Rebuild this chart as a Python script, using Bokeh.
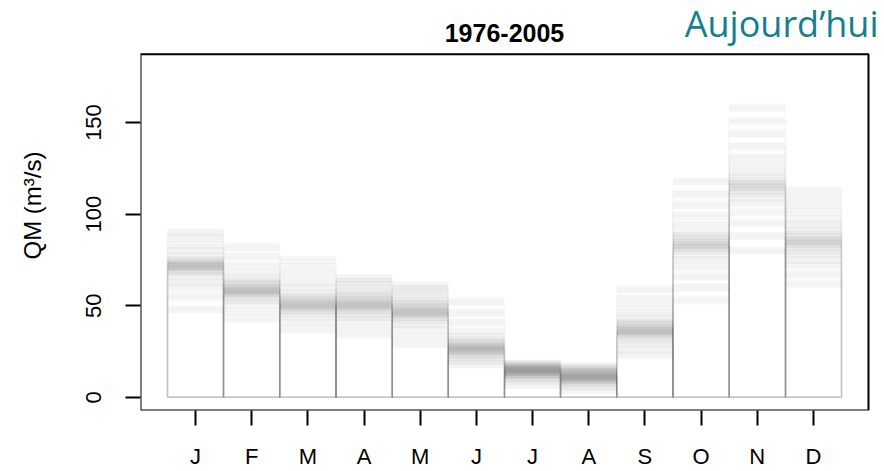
from bokeh.plotting import figure
from bokeh.models import Range1d, FixedTicker, Label, ColumnDataSource, BoxAnnotation
from bokeh.embed import file_html
from bokeh.resources import INLINE

# ---- data ----
month_labels = ["J", "F", "M", "A", "M", "J", "J", "A", "S", "O", "N", "D"]
y_ticks = [0, 50, 100, 150]

# ensemble members of monthly mean flow QM (m3/s), 1976-2005
jan = [48, 55, 60, 63, 66, 68, 69, 70, 71, 71.5, 72, 72.5, 73, 74, 75, 77, 80, 83, 87, 90]
feb = [43, 47, 51, 53, 55, 56, 57, 57.5, 58, 58.5, 59, 60, 61, 62, 63, 65, 68, 72, 77, 82]
mar = [37, 41, 44, 46, 47.5, 48.5, 49.5, 50, 50.5, 51, 52, 53, 54, 55, 57, 60, 63, 67, 71, 75]
apr = [34, 38, 42, 44, 46, 47.5, 48.5, 49.5, 50, 50.5, 51, 52, 53, 54, 55, 56.5, 58.5, 61, 63, 65]
may = [29, 33, 37, 40, 42, 43.5, 44.5, 45.5, 46, 46.5, 47, 48, 49, 50, 51, 52.5, 54.5, 57, 59, 61]
jun = [18, 20, 22, 23, 24, 25, 25.5, 26, 26.5, 27, 27.5, 28, 29, 30, 31, 33, 36, 41, 46, 52]
jul = [7, 9, 10.5, 11.5, 12, 12.5, 13, 13.5, 14, 14, 14.5, 15, 15, 15.5, 16, 16.5, 17, 17.5, 18, 18.5]
aug = [4, 6, 7.5, 8.5, 9, 9.5, 10, 10.5, 11, 11, 11.5, 12, 12.5, 13, 13.5, 14, 14.5, 15.5, 16, 17]
sep = [23, 26, 29, 31, 33, 34, 35, 35.5, 36, 36.5, 37, 38, 39, 40, 41, 43, 46, 50, 54, 59]
octo = [53, 60, 66, 71, 75, 78, 80, 81.5, 82.5, 83, 84, 85, 86.5, 88, 90, 94, 99, 105, 111, 118]
nov = [80, 88, 95, 101, 106, 109, 111.5, 113, 114.5, 115.5, 116.5, 118, 120, 123, 127, 131, 137, 144, 151, 158]
dec = [62, 67, 72, 75, 78, 80, 82, 83.5, 84.5, 85, 86, 87.5, 89, 91, 94, 97, 101, 105, 109, 113]

ensemble = [jan, feb, mar, apr, may, jun, jul, aug, sep, octo, nov, dec]

# plot box (R style: data extent + 4%)
box_x = (0.02, 12.98)
box_y = (-7.2, 187.2)

# ---- build source ----
left, right, top, bottom = [], [], [], []
for i, vals in enumerate(ensemble, start=1):
    for v in vals:
        left.append(i - 0.5)
        right.append(i + 0.5)
        top.append(v)
        bottom.append(0)
src = ColumnDataSource(dict(left=left, right=right, top=top, bottom=bottom))

FONT = "Liberation Sans"

# frame extends to top/right canvas edges so that the titles (outside the box) are drawn
p = figure(width=884, height=471,
           x_range=Range1d(box_x[0], 13.265), y_range=Range1d(box_y[0], 216.6),
           output_backend="svg", toolbar_location=None,
           min_border_left=140, min_border_right=0,
           min_border_top=0, min_border_bottom=60)

p.quad(left="left", right="right", bottom="bottom", top="top", source=src,
       fill_color=None, line_color="black", line_alpha=0.013, line_width=2)
p.segment(x0="left", x1="right", y0="top", y1="top", source=src,
          line_color="black", line_alpha=0.04, line_width=8, line_cap="butt")

p.add_layout(BoxAnnotation(left=box_x[0], right=box_x[1], bottom=box_y[0], top=box_y[1],
                           fill_color=None, fill_alpha=0, line_color="black",
                           line_width=2, line_alpha=1))

p.xgrid.visible = False
p.ygrid.visible = False
p.background_fill_color = "white"
p.border_fill_color = "white"
p.outline_line_color = None

p.xaxis.ticker = FixedTicker(ticks=list(range(1, 13)))
p.xaxis.major_label_overrides = {i + 1: lab for i, lab in enumerate(month_labels)}
p.yaxis.ticker = FixedTicker(ticks=y_ticks)

for ax in (p.xaxis[0], p.yaxis[0]):
    ax.axis_line_color = None
    ax.major_tick_out = 15
    ax.major_tick_in = 0
    ax.minor_tick_line_color = None
    ax.major_tick_line_width = 2
    ax.major_tick_line_color = "black"
    ax.major_label_text_font = FONT
    ax.major_label_text_font_size = "22px"
    ax.major_label_text_color = "black"

p.xaxis.major_label_standoff = 18
p.yaxis.major_label_orientation = "vertical"
p.yaxis.major_label_standoff = 24
p.yaxis.axis_label = "QM (m³/s)"
p.yaxis.axis_label_text_font = FONT
p.yaxis.axis_label_text_font_size = "24px"
p.yaxis.axis_label_text_font_style = "normal"
p.yaxis.axis_label_text_color = "black"
p.yaxis.axis_label_standoff = 38

title = Label(x=6.5, y=198.6, text="1976-2005", text_align="center",
              text_baseline="alphabetic", text_font=FONT, text_font_size="25px",
              text_font_style="bold", text_color="black")
p.add_layout(title)

tag = Label(x=13.158, y=204.1, text="Aujourd’hui", text_align="right",
            text_baseline="alphabetic", text_font="Open Sans", text_font_size="36px",
            text_color="#137f8f")
p.add_layout(tag)

open("out.html", "w").write(file_html(p, INLINE))
